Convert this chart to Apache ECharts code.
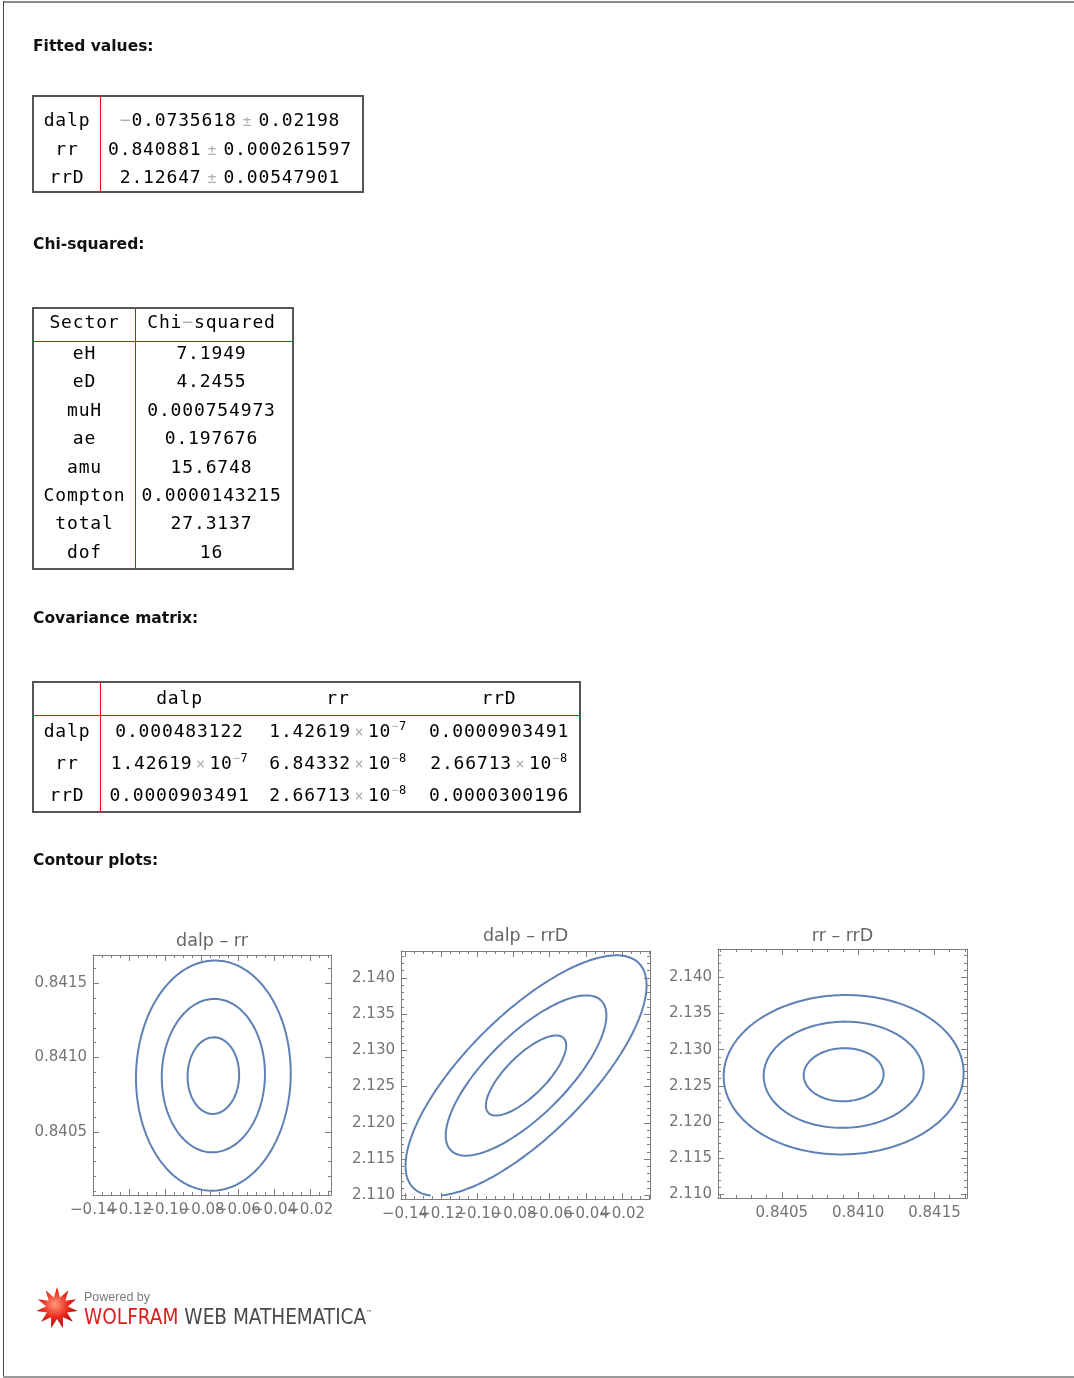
<!DOCTYPE html>
<html>
<head>
<meta charset="utf-8">
<title>Fit summary</title>
<script src="https://cdn.jsdelivr.net/npm/echarts@6/dist/echarts.min.js"></script>
<style>
  html, body { margin: 0; padding: 0; background: #fff; }
  #page { position: relative; width: 1074px; height: 1378px; overflow: hidden; }
  #chart { position: absolute; left: 0; top: 0; width: 1074px; height: 1378px; }
  #doc { position: absolute; left: 0; top: 0; width: 1074px; height: 1378px; }
  .head { position: absolute; left: 33px; font: bold 15.5px/20px "DejaVu Sans", sans-serif; color: #111; white-space: nowrap; }
  .cell { position: absolute; text-align: center; white-space: nowrap; font-family: "DejaVu Sans Mono", monospace; font-size: 18px; letter-spacing: 0.85px; color: #000; }
  .g { color: #b0b0b0; }
  .pm { color: #b0b0b0; font-size: 15px; margin: 0 6px; }
  .times { color: #b0b0b0; font-size: 15px; margin: 0 3.5px; }
  .cell sup { font-size: 12px; line-height: 0; vertical-align: 0.6em; letter-spacing: 0.5px; }
  .box { position: absolute; border: 2px solid #555; box-sizing: border-box; }
  .rule { position: absolute; background: #f00; }
  .edge { position: absolute; }
  .logo { position: absolute; white-space: nowrap; transform-origin: 0 0; }
</style>
</head>
<body>
<div id="page">
  <div class="edge" style="left:3px;top:1px;width:1071px;height:2px;background:#8a8a8a"></div>
  <div class="edge" style="left:3px;top:1px;width:1px;height:1377px;background:#444"></div>
  <div class="edge" style="left:3px;top:1376px;width:1071px;height:2px;background:#9a9a9a"></div>
  <div id="chart"></div>
  <div id="doc"></div>
  <div class="logo" style="left:84px;top:1291px;font:12.5px/12px 'Liberation Sans',sans-serif;color:#7a7a7a">Powered by</div>
  <div class="logo" style="left:84px;top:1302px;font:22px/22px 'Liberation Sans Narrow','DejaVu Sans Condensed',sans-serif;color:#4a4a4a;transform:scaleX(0.935)"><span style="color:#dd1c1c">WOLFRAM</span> WEB MATHEMATICA<span style="font-size:7px;vertical-align:9px">&trade;</span></div>
</div>
<script>
// fitted values
var fitNames = ['dalp', 'rr', 'rrD'];
var fitValues = ['-0.0735618', '0.840881', '2.12647'];
var fitErrors = ['0.02198', '0.000261597', '0.00547901'];

// chi-squared per sector
var sectorNames = ['eH', 'eD', 'muH', 'ae', 'amu', 'Compton', 'total', 'dof'];
var sectorChi2 = ['7.1949', '4.2455', '0.000754973', '0.197676', '15.6748', '0.0000143215', '27.3137', '16'];

// covariance matrix
var covNames = ['dalp', 'rr', 'rrD'];
var covRowDalp = ['0.000483122', '1.42619e-7', '0.0000903491'];
var covRowRr = ['1.42619e-7', '6.84332e-8', '2.66713e-8'];
var covRowRrD = ['0.0000903491', '2.66713e-8', '0.0000300196'];

// contour plots
var plotTitles = ['dalp \u2013 rr', 'dalp \u2013 rrD', 'rr \u2013 rrD'];
var dalpTicks = [-0.14, -0.12, -0.10, -0.08, -0.06, -0.04, -0.02];
var rrTicks = [0.8405, 0.8410, 0.8415];
var rrDTicks = [2.110, 2.115, 2.120, 2.125, 2.130, 2.135, 2.140];
var contourLevels = [1, 2, 3];
var centerX = [-0.0735, -0.0731, 0.840905];
var centerY = [0.840879, 2.12653, 2.12653];
var sigmaX = [0.01425, 0.0222, 0.000262];
var sigmaY = [0.000258, 0.005525, 0.00367];
var rho = [0.02, 0.75, 0.02];
var regionBottom = [null, 2.1100, null]; // contours were only computed above this value

// ---------- text and tables ----------
var doc = document.getElementById('doc');

function el(cls, css, html) {
  var d = document.createElement('div');
  d.className = cls;
  for (var k in css) d.style[k] = css[k];
  d.innerHTML = html || '';
  doc.appendChild(d);
  return d;
}
function heading(text, mid) {
  el('head', {top: (mid - 9.7) + 'px'}, text);
}
function box(l, t, r, b) {
  el('box', {left: l + 'px', top: t + 'px', width: (r - l) + 'px', height: (b - t) + 'px'});
}
function rule(l, t, w, h) {
  el('rule', {left: l + 'px', top: t + 'px', width: w + 'px', height: h + 'px'});
}
function cell(x0, x1, yc, h, html) {
  el('cell', {left: x0 + 'px', width: (x1 - x0) + 'px', top: (yc - h / 2) + 'px',
              height: h + 'px', lineHeight: h + 'px'}, html);
}
function num(s) {
  if (s.indexOf('e') > 0) {
    var parts = s.split('e');
    var ex = parts[1].charAt(0) === '-' ? '<span class="g">\u2212</span>' + parts[1].slice(1) : parts[1];
    return num(parts[0]) + '<span class="times">\u00d7</span>10<sup>' + ex + '</sup>';
  }
  return s.charAt(0) === '-' ? '<span class="g">\u2212</span>' + s.slice(1) : s;
}

heading('Fitted values:', 46);
box(32, 95, 364, 193);
rule(100, 97, 1, 94);
fitNames.forEach(function (n, i) {
  var yc = 120 + 28.5 * i;
  cell(34, 100, yc, 28, n);
  cell(101, 359, yc, 28, num(fitValues[i]) + '<span class="pm">\u00b1</span>' + fitErrors[i]);
});

heading('Chi-squared:', 244);
box(32, 307, 294, 570);
rule(135, 309, 1, 259);
rule(34, 341, 258, 1);
cell(34, 135, 322, 28, 'Sector');
cell(136, 287, 322, 28, 'Chi<span class="g">\u2212</span>squared');
sectorNames.forEach(function (n, i) {
  var yc = 353 + 28.4 * i;
  cell(34, 135, yc, 28, n);
  cell(136, 287, yc, 28, num(sectorChi2[i]));
});

heading('Covariance matrix:', 618);
box(32, 681, 581, 813);
rule(100, 683, 1, 128);
rule(34, 715, 545, 1);
var covCols = [[101, 258], [258, 418], [418, 580]];
var covRows = [covRowDalp, covRowRr, covRowRrD];
covNames.forEach(function (n, j) {
  cell(covCols[j][0], covCols[j][1], 698, 30, n);
});
covRows.forEach(function (row, i) {
  var yc = 731 + 32 * i;
  cell(34, 100, yc, 32, covNames[i]);
  row.forEach(function (v, j) {
    cell(covCols[j][0], covCols[j][1], yc, 32, num(v));
  });
});

heading('Contour plots:', 860);

// ---------- contour plots ----------
var frameColor = '#7d7d7d';
var tickFont = {color: '#747474', fontFamily: 'DejaVu Sans', fontSize: 15};
var axisMeta = {
  dalp: {ticks: dalpTicks, minor: 0.005, digits: 2},
  rr: {ticks: rrTicks, minor: 0.0001, digits: 4},
  rrD: {ticks: rrDTicks, minor: 0.001, digits: 3}
};
var panels = [
  {left: 93, top: 955, width: 238, height: 240, titleY: 941, x: 'dalp', y: 'rr',
   xRange: [-0.1400, -0.0085], yRange: [0.840076, 0.841690]},
  {left: 401, top: 951, width: 249, height: 248, titleY: 936, x: 'dalp', y: 'rrD',
   xRange: [-0.1422, -0.0046], yRange: [2.1095, 2.1437]},
  {left: 718, top: 949, width: 249, height: 249, titleY: 936, x: 'rr', y: 'rrD',
   xRange: [0.840082, 0.841713], yRange: [2.1095, 2.1439]}
];

function minorTicks(range, meta) {
  var out = [];
  var k0 = Math.ceil(range[0] / meta.minor - 1e-6);
  var k1 = Math.floor(range[1] / meta.minor + 1e-6);
  for (var k = k0; k <= k1; k++) {
    var v = +(k * meta.minor).toFixed(7);
    var isMajor = meta.ticks.some(function (t) { return Math.abs(t - v) < meta.minor / 10; });
    if (!isMajor) out.push(v);
  }
  return out;
}

// kind: 'major' (frame line + long ticks), 'minor' (short ticks), 'labels' (text only)
function makeAxis(p, range, meta, position, kind, labelValues, margin) {
  var axis = {
    type: 'value', gridIndex: p, position: position, min: range[0], max: range[1],
    axisLine: {show: kind === 'major', onZero: false, lineStyle: {color: frameColor, width: 1}},
    axisTick: {show: kind !== 'labels', inside: true, length: kind === 'minor' ? 3 : 6,
               customValues: kind === 'minor' ? minorTicks(range, meta) : meta.ticks,
               lineStyle: {color: frameColor, width: 1}},
    axisLabel: {show: false},
    splitLine: {show: false}
  };
  if (labelValues) {
    axis.axisLabel = {
      show: true, customValues: labelValues, margin: margin,
      showMinLabel: true, showMaxLabel: true, hideOverlap: false,
      color: tickFont.color, fontFamily: tickFont.fontFamily, fontSize: tickFont.fontSize,
      formatter: function (v) {
        var s = Math.abs(v).toFixed(meta.digits);
        return v < 0 ? '\u2212' + s : s;
      }
    };
  }
  return axis;
}

// one closed contour: the level-k ellipse of a correlated gaussian
function contourPath(p, k) {
  var pts = [];
  var n = 360;
  var s = Math.sqrt(1 - rho[p] * rho[p]);
  for (var i = 0; i <= n; i++) {
    var t = 2 * Math.PI * i / n;
    var x = centerX[p] + k * sigmaX[p] * Math.cos(t);
    var y = centerY[p] + k * sigmaY[p] * (rho[p] * Math.cos(t) + s * Math.sin(t));
    if (regionBottom[p] !== null && y < regionBottom[p]) pts.push([x, '-']);
    else pts.push([x, y]);
  }
  return pts;
}

var grids = [], xAxes = [], yAxes = [], series = [], graphics = [];
panels.forEach(function (g, p) {
  grids.push({left: g.left, top: g.top, width: g.width, height: g.height,
              containLabel: false, outerBoundsMode: 'none'});
  var mx = axisMeta[g.x], my = axisMeta[g.y];
  // x labels are split over two axes so that neighbouring labels may overlap, as in the original
  var evenX = mx.ticks.filter(function (v, i) { return i % 2 === 0; });
  var oddX = mx.ticks.filter(function (v, i) { return i % 2 === 1; });
  var xBase = xAxes.length, yBase = yAxes.length;
  xAxes.push(makeAxis(p, g.xRange, mx, 'bottom', 'major', evenX, 8));
  xAxes.push(makeAxis(p, g.xRange, mx, 'bottom', 'minor'));
  xAxes.push(makeAxis(p, g.xRange, mx, 'top', 'major'));
  xAxes.push(makeAxis(p, g.xRange, mx, 'top', 'minor'));
  xAxes.push(makeAxis(p, g.xRange, mx, 'bottom', 'labels', oddX, 8));
  yAxes.push(makeAxis(p, g.yRange, my, 'left', 'major', my.ticks, 6));
  yAxes.push(makeAxis(p, g.yRange, my, 'left', 'minor'));
  yAxes.push(makeAxis(p, g.yRange, my, 'right', 'major'));
  yAxes.push(makeAxis(p, g.yRange, my, 'right', 'minor'));
  contourLevels.forEach(function (k) {
    series.push({
      type: 'line', xAxisIndex: xBase, yAxisIndex: yBase,
      data: contourPath(p, k), showSymbol: false, symbol: 'none',
      connectNulls: false, clip: true, silent: true,
      lineStyle: {color: '#5e81b5', width: 2, cap: 'round', join: 'round'}
    });
  });
  graphics.push({
    type: 'text', x: g.left + g.width / 2, y: g.titleY,
    style: {text: plotTitles[p], fill: '#666', fontFamily: 'DejaVu Sans', fontSize: 17.5,
            align: 'center', verticalAlign: 'middle'}
  });
});

// Wolfram spikey for the footer
function starPoints(cx, cy, rOut, rIn, n) {
  var pts = [];
  for (var i = 0; i < 2 * n; i++) {
    var a = -Math.PI / 2 + Math.PI * i / n;
    var r = i % 2 === 0 ? rOut : rIn;
    pts.push([cx + r * Math.cos(a), cy + r * Math.sin(a)]);
  }
  return pts;
}
graphics.push({
  type: 'polygon', shape: {points: starPoints(57, 1308, 21, 11, 11)},
  style: {fill: {type: 'radial', x: 0.45, y: 0.42, r: 0.6, colorStops: [
    {offset: 0, color: '#ff9a7a'}, {offset: 0.55, color: '#e8281c'}, {offset: 1, color: '#a80c0c'}]}}
});

var chart = echarts.init(document.getElementById('chart'), null, {renderer: 'canvas'});
chart.setOption({
  animation: false,
  grid: grids,
  xAxis: xAxes,
  yAxis: yAxes,
  series: series,
  graphic: graphics
});
</script>
</body>
</html>
